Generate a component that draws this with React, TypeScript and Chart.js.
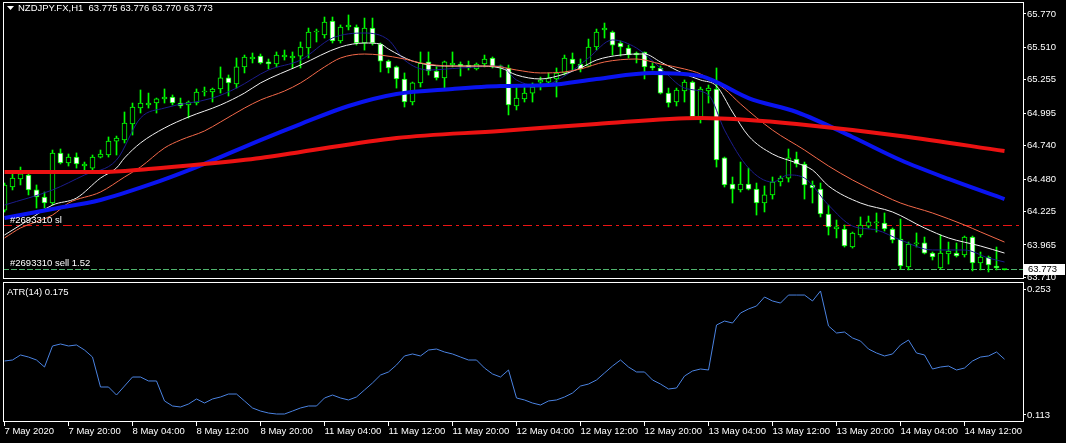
import React, { useEffect, useRef } from 'react';
import { Chart, registerables } from 'chart.js';

Chart.register(...registerables);

// ---------- DATA ----------
const symbolTitle = 'NZDJPY.FX,H1';
const lastQuote = ['63.775', '63.776', '63.770', '63.773'];
const bidPrice = 63.773;
const orderId = '#2693310';
const stopLossLevel = 64.125;
const sellLevel = 63.780;
const sellLots = '1.52';
const atrTitle = 'ATR(14)';
const atrLast = '0.175';

const opens = [
  64.238, 64.418, 64.481, 64.512, 64.395, 64.340, 64.293, 64.684, 64.606, 64.652,
  64.582, 64.566, 64.652, 64.668, 64.777, 64.785, 64.910, 65.035, 65.059, 65.074,
  65.106, 65.121, 65.074, 65.059, 65.074, 65.160, 65.160, 65.184, 65.270, 65.223,
  65.356, 65.418, 65.441, 65.395, 65.379, 65.434, 65.426, 65.441, 65.504, 65.629,
  65.606, 65.715, 65.559, 65.668, 65.668, 65.543, 65.660, 65.535, 65.402, 65.356,
  65.262, 65.082, 65.231, 65.395, 65.324, 65.270, 65.371, 65.379, 65.371, 65.340,
  65.379, 65.426, 65.363, 65.348, 65.051, 65.106, 65.152, 65.238, 65.238, 65.262,
  65.309, 65.418, 65.379, 65.363, 65.512, 65.645, 65.629, 65.543, 65.504, 65.465,
  65.473, 65.363, 65.348, 65.152, 65.082, 65.168, 65.238, 64.965, 65.168, 65.184,
  64.645, 64.441, 64.395, 64.441, 64.402, 64.293, 64.356, 64.457, 64.488, 64.637,
  64.598, 64.434, 64.402, 64.207, 64.090, 64.090, 63.949, 64.043, 64.113, 64.137,
  64.137, 64.090, 64.012, 63.793, 63.973, 63.981, 63.902, 63.785, 63.895, 63.902,
  63.887, 64.027, 63.824, 63.871, 63.801, 63.775,
];
const highs = [
  64.449, 64.527, 64.574, 64.527, 64.434, 64.379, 64.707, 64.715, 64.676, 64.684,
  64.613, 64.668, 64.707, 64.809, 64.816, 65.004, 65.074, 65.176, 65.152, 65.113,
  65.184, 65.137, 65.113, 65.090, 65.184, 65.199, 65.191, 65.356, 65.293, 65.426,
  65.449, 65.465, 65.457, 65.418, 65.473, 65.488, 65.473, 65.551, 65.660, 65.652,
  65.746, 65.746, 65.684, 65.762, 65.684, 65.738, 65.738, 65.543, 65.410, 65.363,
  65.309, 65.238, 65.473, 65.473, 65.356, 65.402, 65.473, 65.395, 65.402, 65.387,
  65.449, 65.434, 65.371, 65.371, 65.199, 65.199, 65.231, 65.277, 65.309, 65.348,
  65.449, 65.465, 65.418, 65.574, 65.652, 65.699, 65.637, 65.559, 65.527, 65.473,
  65.473, 65.387, 65.363, 65.191, 65.191, 65.254, 65.246, 65.199, 65.215, 65.348,
  64.652, 64.496, 64.613, 64.566, 64.449, 64.426, 64.496, 64.504, 64.715, 64.691,
  64.613, 64.465, 64.449, 64.277, 64.160, 64.121, 64.066, 64.184, 64.191, 64.215,
  64.215, 64.098, 64.168, 63.988, 64.059, 64.027, 63.910, 64.043, 63.988, 63.981,
  64.035, 64.035, 63.910, 63.879, 63.949, 63.776,
];
const lows = [
  64.223, 64.395, 64.434, 64.356, 64.254, 64.254, 64.277, 64.598, 64.582, 64.566,
  64.551, 64.551, 64.645, 64.652, 64.668, 64.762, 64.824, 64.996, 65.035, 64.996,
  65.074, 65.059, 65.035, 64.957, 65.059, 65.129, 65.082, 65.152, 65.129, 65.191,
  65.309, 65.387, 65.379, 65.340, 65.356, 65.410, 65.348, 65.348, 65.426, 65.551,
  65.582, 65.543, 65.543, 65.645, 65.527, 65.488, 65.527, 65.317, 65.309, 65.191,
  65.043, 65.059, 65.199, 65.293, 65.254, 65.191, 65.356, 65.285, 65.332, 65.332,
  65.356, 65.348, 65.277, 64.981, 65.020, 65.082, 65.082, 65.176, 65.215, 65.121,
  65.293, 65.332, 65.317, 65.356, 65.488, 65.582, 65.449, 65.441, 65.426, 65.387,
  65.262, 65.332, 65.145, 65.043, 65.051, 65.082, 64.949, 64.918, 65.074, 64.574,
  64.418, 64.293, 64.379, 64.395, 64.199, 64.223, 64.324, 64.426, 64.457, 64.574,
  64.324, 64.293, 64.184, 64.043, 64.020, 63.949, 63.941, 64.027, 64.098, 64.066,
  64.074, 63.981, 63.777, 63.770, 63.949, 63.895, 63.848, 63.777, 63.816, 63.871,
  63.871, 63.762, 63.770, 63.754, 63.770, 63.770,
];
const closes = [
  64.434, 64.488, 64.520, 64.395, 64.340, 64.293, 64.684, 64.606, 64.652, 64.598,
  64.598, 64.652, 64.676, 64.777, 64.801, 64.918, 65.043, 65.074, 65.074, 65.106,
  65.121, 65.074, 65.051, 65.082, 65.160, 65.168, 65.184, 65.270, 65.231, 65.356,
  65.434, 65.434, 65.387, 65.379, 65.449, 65.449, 65.441, 65.512, 65.629, 65.637,
  65.707, 65.559, 65.668, 65.684, 65.543, 65.660, 65.543, 65.402, 65.348, 65.262,
  65.082, 65.231, 65.387, 65.324, 65.270, 65.395, 65.387, 65.363, 65.348, 65.379,
  65.418, 65.356, 65.356, 65.059, 65.113, 65.152, 65.199, 65.254, 65.270, 65.309,
  65.426, 65.379, 65.340, 65.512, 65.629, 65.660, 65.527, 65.512, 65.449, 65.449,
  65.356, 65.348, 65.152, 65.074, 65.176, 65.238, 64.965, 65.184, 65.191, 64.629,
  64.434, 64.402, 64.441, 64.402, 64.293, 64.356, 64.457, 64.488, 64.645, 64.598,
  64.434, 64.410, 64.207, 64.106, 64.106, 63.957, 64.059, 64.121, 64.145, 64.145,
  64.090, 64.004, 63.801, 63.973, 63.981, 63.902, 63.871, 63.902, 63.918, 63.879,
  64.027, 63.824, 63.871, 63.809, 63.785, 63.773,
];

// moving averages read at sample bars (bar index, value)
const ma200Idx = [0, 12, 18, 25, 32, 37, 49, 62, 74, 87, 93, 99, 112, 125];
const ma200Val = [64.535, 64.535, 64.559, 64.598, 64.645, 64.692, 64.801, 64.856, 64.910, 64.957, 64.942, 64.910, 64.817, 64.699];

const ma50Idx = [0, 6, 12, 18, 24, 32, 37, 43, 49, 56, 62, 68, 74, 81, 87, 89, 93, 99, 106, 112, 118, 125];
const ma50Val = [64.176, 64.246, 64.317, 64.434, 64.574, 64.785, 64.910, 65.051, 65.145, 65.184, 65.207, 65.215, 65.262, 65.309, 65.285, 65.238, 65.113, 65.004, 64.809, 64.629, 64.481, 64.324];

const whiteIdx = [0, 3, 6, 9, 12, 14, 15, 17, 20, 23, 27, 30, 32, 37, 42, 45, 47, 48, 51, 55, 59, 62, 64, 67, 70, 72, 74, 77, 80, 82, 85, 87, 89, 91, 93, 96, 99, 101, 103, 107, 111, 115, 118, 122, 125];
const whiteVal = [64.043, 64.160, 64.277, 64.332, 64.488, 64.567, 64.645, 64.762, 64.879, 64.965, 65.059, 65.152, 65.231, 65.371, 65.512, 65.543, 65.535, 65.496, 65.402, 65.363, 65.363, 65.348, 65.293, 65.262, 65.301, 65.348, 65.410, 65.449, 65.457, 65.395, 65.301, 65.254, 65.207, 65.004, 64.817, 64.676, 64.606, 64.551, 64.426, 64.293, 64.223, 64.098, 64.020, 63.957, 63.902];

const orangeIdx = [0, 2, 6, 8, 12, 15, 17, 20, 22, 25, 27, 30, 32, 35, 37, 40, 42, 45, 47, 50, 52, 56, 61, 64, 67, 70, 72, 75, 79, 82, 85, 87, 90, 92, 96, 100, 103, 106, 110, 112, 116, 120, 122, 125];
const orangeVal = [64.020, 64.098, 64.199, 64.293, 64.379, 64.496, 64.574, 64.723, 64.785, 64.856, 64.926, 65.035, 65.098, 65.168, 65.231, 65.356, 65.426, 65.457, 65.449, 65.418, 65.387, 65.363, 65.363, 65.332, 65.309, 65.317, 65.340, 65.395, 65.418, 65.379, 65.340, 65.301, 65.184, 65.067, 64.863, 64.707, 64.582, 64.473, 64.348, 64.293, 64.215, 64.121, 64.067, 63.988];

const navyIdx = [0, 6, 10, 14, 17, 20, 26, 29, 33, 37, 41, 45, 48, 50, 53, 57, 62, 64, 67, 70, 73, 76, 79, 82, 85, 88, 90, 93, 96, 98, 100, 103, 106, 109, 112, 116, 120, 123, 125];
const navyVal = [64.277, 64.395, 64.512, 64.629, 64.957, 65.035, 65.113, 65.191, 65.332, 65.410, 65.582, 65.621, 65.567, 65.410, 65.332, 65.348, 65.363, 65.254, 65.207, 65.285, 65.426, 65.567, 65.504, 65.348, 65.191, 65.137, 64.863, 64.567, 64.457, 64.512, 64.488, 64.277, 64.113, 64.082, 64.004, 63.926, 63.926, 63.863, 63.832];

const atrValues = [
  0.1730, 0.1741, 0.1797, 0.1774, 0.1741, 0.1663, 0.1897, 0.1919, 0.1897, 0.1908,
  0.1852, 0.1774, 0.1441, 0.1441, 0.1352, 0.1452, 0.1552, 0.1552, 0.1508, 0.1508,
  0.1286, 0.1230, 0.1219, 0.1252, 0.1308, 0.1263, 0.1308, 0.1330, 0.1363, 0.1363,
  0.1286, 0.1208, 0.1174, 0.1152, 0.1141, 0.1141, 0.1174, 0.1208, 0.1230, 0.1230,
  0.1319, 0.1352, 0.1319, 0.1297, 0.1330, 0.1408, 0.1486, 0.1574, 0.1608, 0.1686,
  0.1786, 0.1808, 0.1786, 0.1852, 0.1863, 0.1830, 0.1808, 0.1774, 0.1741, 0.1741,
  0.1652, 0.1586, 0.1552, 0.1630, 0.1319, 0.1297, 0.1263, 0.1241, 0.1286, 0.1297,
  0.1330, 0.1374, 0.1452, 0.1474, 0.1519, 0.1597, 0.1674, 0.1741, 0.1663, 0.1608,
  0.1608, 0.1519, 0.1474, 0.1419, 0.1430, 0.1563, 0.1619, 0.1641, 0.1630, 0.2130,
  0.2174, 0.2152, 0.2263, 0.2308, 0.2341, 0.2441, 0.2397, 0.2374, 0.2463, 0.2463,
  0.2463, 0.2397, 0.2508, 0.2119, 0.2041, 0.2052, 0.1986, 0.1952, 0.1863, 0.1819,
  0.1786, 0.1808, 0.1908, 0.1963, 0.1819, 0.1797, 0.1641, 0.1663, 0.1674, 0.1630,
  0.1652, 0.1730, 0.1774, 0.1786, 0.1830, 0.1750,
];

const timeTickIdx = [0, 8, 16, 24, 32, 40, 48, 56, 64, 72, 80, 88, 96, 104, 112, 120];
const timeLabels = [
  '7 May 2020', '7 May 20:00', '8 May 04:00', '8 May 12:00', '8 May 20:00',
  '11 May 04:00', '11 May 12:00', '11 May 20:00', '12 May 04:00', '12 May 12:00',
  '12 May 20:00', '13 May 04:00', '13 May 12:00', '13 May 20:00', '14 May 04:00', '14 May 12:00',
];
const priceTicks = [65.770, 65.510, 65.255, 64.995, 64.740, 64.480, 64.225, 63.965, 63.710];
const atrTicks = [0.253, 0.113];

// ---------- STYLE ----------
const W = 1066;
const MAIN_H = 281;
const ATR_H = 162;
const X_MIN = -0.1875;
const X_MAX = 127.3125;
const PRICE_MIN = 63.6993;
const PRICE_MAX = 65.8634;
const ATR_MIN = 0.10522;
const ATR_MAX = 0.26078;
const FONT = 'Liberation Sans';
const FSIZE = 9.5;
const CANDLE = '#00ff00';

const pts = (idx: number[], vals: number[]) => idx.map((x, k) => ({ x, y: vals[k] }));

const framePlugin = {
  id: 'frame',
  afterDraw(chart: any) {
    const { ctx, chartArea: a } = chart;
    ctx.save();
    ctx.strokeStyle = '#ffffff';
    ctx.lineWidth = 1;
    ctx.strokeRect(a.left + 0.5, a.top + 0.5, a.right - a.left, a.bottom - a.top - 1);
    ctx.restore();
  },
};

const mainOverlay = {
  id: 'mainOverlay',
  beforeDatasetsDraw(chart: any) {
    const { ctx, chartArea: a, scales } = chart;
    const y = scales.y;
    ctx.save();
    ctx.lineWidth = 1;
    ctx.globalAlpha = 1;
    const ySl = Math.round(y.getPixelForValue(stopLossLevel)) + 0.5;
    ctx.strokeStyle = 'rgb(235, 20, 20)';
    ctx.setLineDash([9, 4, 3, 4]);
    ctx.beginPath(); ctx.moveTo(a.left, ySl); ctx.lineTo(a.right, ySl); ctx.stroke();
    const ySell = Math.round(y.getPixelForValue(sellLevel)) + 0.5;
    ctx.strokeStyle = 'rgb(80, 180, 110)';
    ctx.setLineDash([6, 2]);
    ctx.beginPath(); ctx.moveTo(a.left, ySell); ctx.lineTo(a.right, ySell); ctx.stroke();
    ctx.restore();
  },
  afterDraw(chart: any) {
    const { ctx, chartArea: a, scales } = chart;
    const y = scales.y;
    ctx.save();
    ctx.font = `${FSIZE}px "${FONT}"`;
    ctx.fillStyle = '#ffffff';
    ctx.textAlign = 'left';
    ctx.textBaseline = 'alphabetic';
    const ySl = y.getPixelForValue(stopLossLevel);
    ctx.fillText(`${orderId} sl`, a.left + 7, ySl - 2);
    const ySell = y.getPixelForValue(sellLevel);
    ctx.fillText(`${orderId} sell ${sellLots}`, a.left + 7, ySell - 3);
    // header
    ctx.beginPath();
    ctx.moveTo(a.left + 4, a.top + 4);
    ctx.lineTo(a.left + 11, a.top + 4);
    ctx.lineTo(a.left + 7.5, a.top + 8);
    ctx.closePath();
    ctx.fill();
    ctx.textBaseline = 'middle';
    ctx.fillText(`${symbolTitle}  ${lastQuote.join(' ')}`, a.left + 15, a.top + 6.5);
    // bid box
    const yb = y.getPixelForValue(bidPrice);
    ctx.fillStyle = '#ffffff';
    ctx.fillRect(a.right + 1, Math.round(yb) - 6, W - a.right - 2, 11);
    ctx.fillStyle = '#000000';
    ctx.fillText(bidPrice.toFixed(3), a.right + 5, Math.round(yb) - 0.5);
    ctx.restore();
  },
};

const atrOverlay = {
  id: 'atrOverlay',
  afterDraw(chart: any) {
    const { ctx, chartArea: a } = chart;
    ctx.save();
    ctx.font = `${FSIZE}px "${FONT}"`;
    ctx.fillStyle = '#ffffff';
    ctx.textBaseline = 'middle';
    ctx.fillText(`${atrTitle} ${atrLast}`, a.left + 4, a.top + 10);
    ctx.restore();
  },
};

export default function App() {
  const mainRef = useRef<HTMLCanvasElement>(null);
  const atrRef = useRef<HTMLCanvasElement>(null);

  useEffect(() => {
    document.body.style.margin = '0';
    document.body.style.background = '#000';
    const font = { family: FONT, size: FSIZE };

    const bodyData = opens.map((o, i) => ({ x: i, y: [o, closes[i]] }));
    const wickData = opens.map((_, i) => ({ x: i, y: [lows[i], highs[i]] }));

    const main = new Chart(mainRef.current as HTMLCanvasElement, {
      type: 'bar',
      data: {
        datasets: [
          {
            type: 'bar', data: wickData as any, barThickness: 1, backgroundColor: CANDLE,
            borderWidth: 0, grouped: false, order: 5,
          },
          {
            type: 'bar', data: bodyData as any, barThickness: 5, grouped: false, order: 4,
            borderColor: CANDLE, borderWidth: 1, borderSkipped: false, minBarLength: 1,
            backgroundColor: (c: any) => {
              const i = c.dataIndex;
              const o = opens[i], cl = closes[i];
              if (Math.abs(o - cl) < 0.004) return CANDLE;
              return cl >= o ? '#000000' : '#ffffff';
            },
          },
          {
            type: 'line', data: pts(navyIdx, navyVal) as any, borderColor: '#1c1c8c', borderWidth: 1,
            pointRadius: 0, cubicInterpolationMode: 'monotone', order: 3,
          },
          {
            type: 'line', data: pts(orangeIdx, orangeVal) as any, borderColor: '#f4694a', borderWidth: 1,
            pointRadius: 0, cubicInterpolationMode: 'monotone', order: 2,
          },
          {
            type: 'line', data: pts(whiteIdx, whiteVal) as any, borderColor: '#f0f0f0', borderWidth: 1,
            pointRadius: 0, cubicInterpolationMode: 'monotone', order: 2,
          },
          {
            type: 'line', data: pts(ma50Idx, ma50Val) as any, borderColor: '#0a14f0', borderWidth: 4,
            pointRadius: 0, cubicInterpolationMode: 'monotone', order: 1,
          },
          {
            type: 'line', data: pts(ma200Idx, ma200Val) as any, borderColor: '#ec1212', borderWidth: 4,
            pointRadius: 0, cubicInterpolationMode: 'monotone', order: 0,
          },
        ] as any,
      },
      options: {
        animation: false,
        responsive: false,
        maintainAspectRatio: false,
        layout: { padding: { left: 3, top: 2, right: 0, bottom: 2 } },
        plugins: { legend: { display: false }, tooltip: { enabled: false } },
        scales: {
          x: { type: 'linear', min: X_MIN, max: X_MAX, display: false, offset: false },
          y: {
            type: 'linear', position: 'right', min: PRICE_MIN, max: PRICE_MAX,
            afterBuildTicks: (s: any) => { s.ticks = priceTicks.map((v) => ({ value: v })); },
            afterFit: (s: any) => { s.width = 43; s.paddingTop = 0; s.paddingBottom = 0; },
            ticks: { color: '#ffffff', font, padding: 1, autoSkip: false, callback: (v: any) => Number(v).toFixed(3) },
            grid: { drawOnChartArea: false, tickLength: 3, color: '#ffffff' },
            border: { display: false },
          },
        },
      } as any,
      plugins: [mainOverlay, framePlugin],
    });

    const atr = new Chart(atrRef.current as HTMLCanvasElement, {
      type: 'line',
      data: {
        datasets: [{
          data: atrValues.map((v, i) => ({ x: i, y: v })) as any,
          borderColor: '#4a82e0', borderWidth: 1, pointRadius: 0, tension: 0,
        }],
      },
      options: {
        animation: false,
        responsive: false,
        maintainAspectRatio: false,
        layout: { padding: { left: 3, top: 1, right: 0, bottom: 0 } },
        plugins: { legend: { display: false }, tooltip: { enabled: false } },
        scales: {
          x: {
            type: 'linear', min: X_MIN, max: X_MAX, offset: false,
            afterBuildTicks: (s: any) => { s.ticks = timeTickIdx.map((v) => ({ value: v })); },
            afterFit: (s: any) => { s.height = 21; s.paddingLeft = 0; s.paddingRight = 0; },
            ticks: {
              color: '#ffffff', font, align: 'start', maxRotation: 0, minRotation: 0, autoSkip: false, padding: 0,
              callback: (v: any) => { const k = timeTickIdx.indexOf(Number(v)); return k >= 0 ? timeLabels[k] : ''; },
            },
            grid: { drawOnChartArea: false, tickLength: 4, color: '#ffffff' },
            border: { display: false },
          },
          y: {
            type: 'linear', position: 'right', min: ATR_MIN, max: ATR_MAX,
            afterBuildTicks: (s: any) => { s.ticks = atrTicks.map((v) => ({ value: v })); },
            afterFit: (s: any) => { s.width = 43; s.paddingTop = 0; s.paddingBottom = 0; },
            ticks: { color: '#ffffff', font, padding: 1, autoSkip: false, callback: (v: any) => Number(v).toFixed(3) },
            grid: { drawOnChartArea: false, tickLength: 3, color: '#ffffff' },
            border: { display: false },
          },
        },
      } as any,
      plugins: [atrOverlay, framePlugin],
    });

    return () => { main.destroy(); atr.destroy(); };
  }, []);

  return (
    <div style={{ position: 'fixed', left: 0, top: 0, width: W, height: MAIN_H + ATR_H, background: '#000', overflow: 'hidden' }}>
      <canvas ref={mainRef} width={W} height={MAIN_H} style={{ position: 'absolute', left: 0, top: 0, width: W, height: MAIN_H }} />
      <canvas ref={atrRef} width={W} height={ATR_H} style={{ position: 'absolute', left: 0, top: MAIN_H, width: W, height: ATR_H }} />
    </div>
  );
}
